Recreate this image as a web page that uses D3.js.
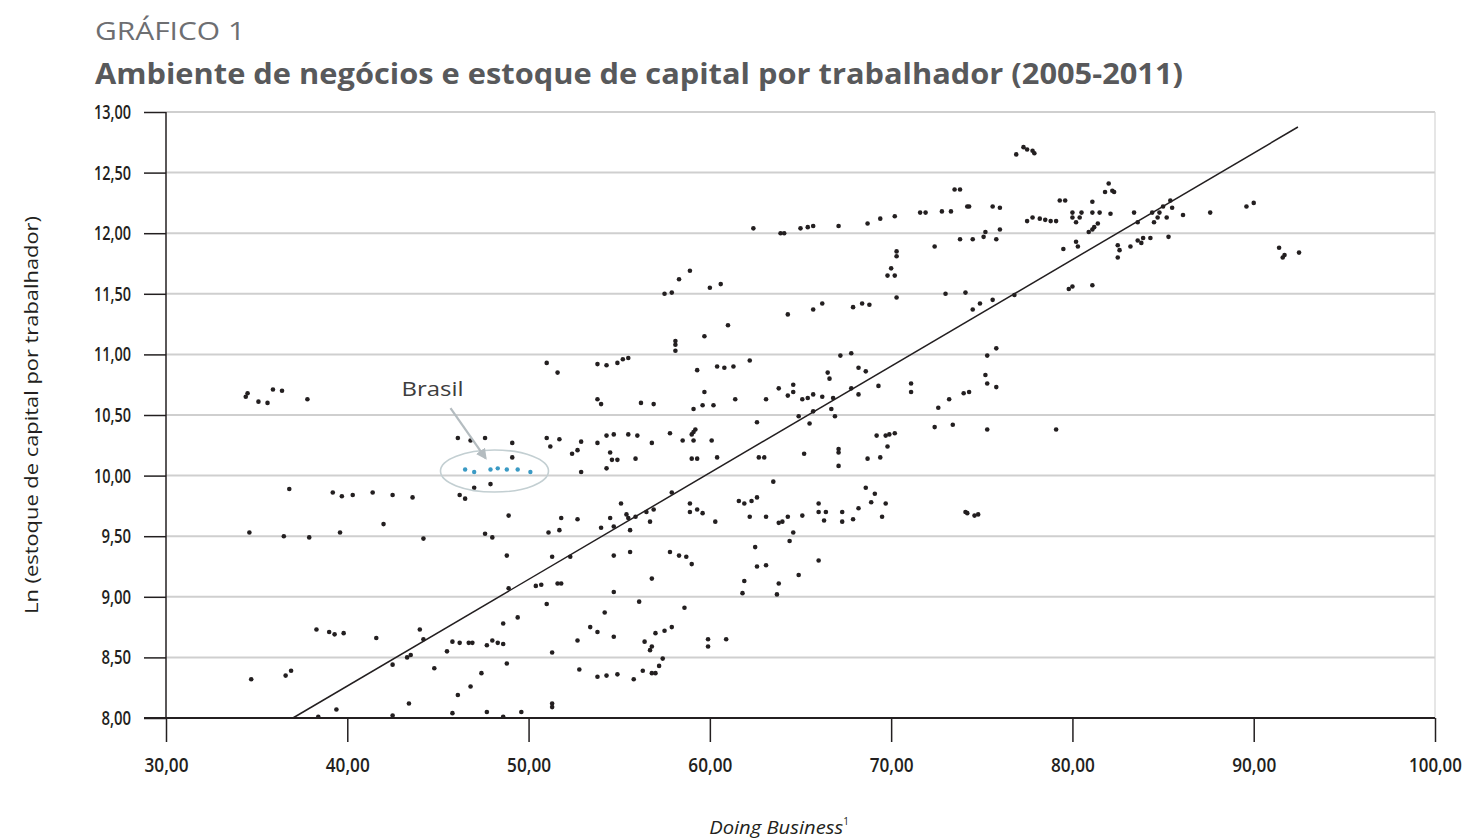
<!DOCTYPE html>
<html><head><meta charset="utf-8">
<script src="https://cdn.jsdelivr.net/npm/d3@7/dist/d3.min.js"></script>
<style>
body{margin:0;background:#fff;}
svg{display:block;}
</style></head>
<body>
<svg id="c" width="1480" height="839"></svg>
<script>
// ---- Data (Doing Business score, Ln capital stock per worker) ----
const xTicks = [30,40,50,60,70,80,90,100];
const yTicks = [8,8.5,9,9.5,10,10.5,11,11.5,12,12.5,13];
const doingBusiness = [
34.4,34.5,35.1,35.6,35.9,36.4,37.8,
46.1,46.8,47.6,47.0,47.9,36.8,39.2,39.7,40.3,41.4,42.5,43.6,46.2,46.5,42.0,
34.6,36.5,37.9,39.6,44.2,47.6,48.0,
38.3,39.0,39.3,39.8,41.6,44.0,44.2,45.8,46.2,46.7,46.9,47.7,48.0,48.3,45.5,43.3,43.5,42.5,44.8,47.4,
34.7,36.6,36.9,46.8,46.1,43.4,39.4,45.8,47.7,42.5,38.4,
62.4,58.9,58.3,60.0,60.6,57.5,57.9,61.0,59.7,58.1,58.1,58.1,
51.0,51.6,53.8,54.3,54.9,55.2,55.5,62.2,59.3,60.4,60.8,61.3,
53.8,54.0,56.2,56.9,59.1,59.6,60.2,61.4,63.1,59.7,62.6,59.2,
49.1,51.0,51.2,51.7,52.9,52.7,52.4,53.8,54.3,54.7,55.5,56.0,56.8,57.8,59.1,59.0,58.5,59.1,60.1,
49.1,54.5,54.6,54.9,55.9,59.0,59.3,60.4,62.7,63.0,54.3,52.9,
48.9,51.8,52.7,51.1,51.7,54.5,54.0,54.7,55.1,55.4,55.5,55.6,55.9,56.5,56.9,56.7,57.9,58.9,58.9,59.3,59.6,60.3,61.6,61.9,62.3,62.6,62.2,63.1,
48.8,51.3,52.3,54.7,55.6,57.8,58.3,58.7,59.0,62.5,62.6,63.1,
48.9,50.4,50.7,51.6,51.8,54.7,56.8,61.9,61.8,51.0,56.1,58.6,54.2,
49.4,48.6,53.4,53.8,57.0,57.5,57.9,52.7,54.7,56.4,56.8,56.7,59.9,59.9,60.9,48.6,
51.3,48.8,57.4,57.2,52.8,56.3,56.8,57.0,53.8,54.3,54.9,55.8,51.3,51.3,49.6,48.6,
76.9,77.3,77.5,77.8,77.9,73.5,73.8,74.2,74.3,75.6,76.0,77.5,77.8,
70.2,69.4,68.7,67.1,71.6,71.9,72.8,73.3,63.9,64.1,65.0,65.4,65.7,
73.8,74.5,75.1,75.2,75.8,76.0,72.4,70.3,70.3,70.0,69.8,70.2,70.3,73.0,74.1,
64.3,65.7,66.2,67.9,68.4,68.8,74.5,74.9,75.6,76.8,
67.2,67.8,75.3,75.8,68.2,68.6,66.5,66.6,63.8,64.6,64.6,64.3,65.1,65.4,65.7,66.2,66.8,67.8,68.2,69.3,71.1,71.1,
75.2,75.3,75.8,74.0,74.3,73.2,72.6,64.9,65.7,66.7,66.9,65.5,72.4,73.4,75.3,
69.2,69.7,69.9,70.2,69.8,65.2,67.1,67.1,67.1,68.7,69.4,
63.5,68.6,69.1,68.9,69.7,66.0,66.0,66.4,66.3,67.3,67.3,67.9,68.2,69.5,65.1,64.3,64.0,63.8,
74.1,74.2,74.6,74.8,64.6,64.4,66.0,64.9,63.8,63.7,
82.0,82.2,82.3,81.8,79.3,79.6,81.1,78.5,78.8,79.1,78.2,80.0,80.0,80.2,80.5,80.4,81.1,81.5,82.1,81.2,81.4,80.9,81.1,
79.5,80.2,80.3,83.4,83.6,84.4,84.7,84.8,85.0,85.4,85.5,85.2,84.5,86.1,87.6,89.6,90.0,
82.5,82.6,82.5,83.2,83.6,83.8,83.9,84.3,85.3,91.4,91.7,91.6,92.5,79.8,80.0,81.1,79.1
];
const lnCapital = [
10.65,10.68,10.61,10.60,10.71,10.70,10.63,
10.31,10.29,10.31,9.90,9.93,9.89,9.86,9.83,9.84,9.86,9.84,9.82,9.84,9.81,9.60,
9.53,9.50,9.49,9.53,9.48,9.52,9.49,
8.73,8.71,8.69,8.70,8.66,8.73,8.65,8.63,8.62,8.62,8.62,8.60,8.64,8.62,8.55,8.50,8.52,8.44,8.41,8.37,
8.32,8.35,8.39,8.26,8.19,8.12,8.07,8.04,8.05,8.02,8.01,
12.04,11.69,11.62,11.55,11.58,11.50,11.51,11.24,11.15,11.11,11.08,11.03,
10.93,10.85,10.92,10.91,10.93,10.96,10.97,10.95,10.87,10.90,10.89,10.90,
10.63,10.59,10.60,10.59,10.55,10.58,10.58,10.63,10.63,10.69,10.44,10.38,
10.27,10.31,10.24,10.30,10.28,10.21,10.18,10.27,10.33,10.34,10.34,10.33,10.27,10.35,10.36,10.34,10.29,10.29,10.29,
10.15,10.19,10.13,10.13,10.14,10.14,10.14,10.15,10.15,10.15,10.06,10.03,
9.67,9.65,9.64,9.53,9.55,9.65,9.57,9.58,9.77,9.68,9.65,9.55,9.66,9.70,9.72,9.62,9.86,9.77,9.70,9.72,9.69,9.62,9.79,9.77,9.79,9.82,9.66,9.66,
9.34,9.33,9.33,9.34,9.37,9.37,9.34,9.33,9.27,9.41,9.25,9.26,
9.07,9.09,9.10,9.11,9.11,9.04,9.15,9.13,9.03,8.94,8.96,8.91,8.87,
8.83,8.78,8.75,8.71,8.70,8.72,8.75,8.64,8.67,8.63,8.59,8.56,8.65,8.59,8.65,8.61,
8.54,8.45,8.49,8.43,8.40,8.39,8.37,8.37,8.34,8.35,8.36,8.32,8.12,8.09,8.05,8.01,
12.65,12.71,12.69,12.68,12.66,12.36,12.36,12.22,12.22,12.22,12.21,12.10,12.13,
12.14,12.12,12.08,12.06,12.17,12.17,12.18,12.18,12.00,12.00,12.04,12.05,12.06,
11.95,11.95,11.97,12.01,11.95,12.03,11.89,11.85,11.81,11.71,11.65,11.65,11.47,11.50,11.51,
11.33,11.37,11.42,11.39,11.42,11.41,11.37,11.42,11.45,11.49,
10.99,11.01,10.99,11.05,10.89,10.86,10.85,10.80,10.72,10.75,10.69,10.66,10.63,10.64,10.67,10.65,10.64,10.72,10.67,10.74,10.76,10.69,
10.83,10.76,10.73,10.68,10.69,10.63,10.56,10.49,10.53,10.55,10.49,10.43,10.40,10.42,10.38,
10.33,10.33,10.34,10.35,10.24,10.18,10.22,10.19,10.08,10.14,10.15,
9.95,9.90,9.85,9.78,9.77,9.77,9.70,9.70,9.63,9.70,9.62,9.64,9.73,9.66,9.67,9.66,9.62,9.61,
9.70,9.69,9.67,9.68,9.53,9.46,9.30,9.18,9.11,9.02,
12.41,12.35,12.34,12.34,12.27,12.27,12.26,12.11,12.10,12.10,12.12,12.17,12.13,12.09,12.17,12.13,12.17,12.17,12.16,12.05,12.08,12.01,12.03,
11.87,11.93,11.89,12.17,12.09,12.17,12.13,12.17,12.22,12.27,12.21,12.13,12.09,12.15,12.17,12.22,12.25,
11.90,11.86,11.80,11.89,11.94,11.92,11.96,11.96,11.97,11.88,11.82,11.80,11.84,11.54,11.56,11.57,10.38
];
const brasilDB = [46.5,47.0,47.9,48.3,48.8,49.4,50.1];
const brasilLn = [10.05,10.03,10.05,10.06,10.05,10.05,10.03];
const trendIntercept = 4.746, trendSlope = 0.08795;
const trendRange = [37.0, 92.44];

// ---- Drawing ----
const svg = d3.select("#c");
const L = 166, R = 1435, T = 112, B = 718;
const x = d3.scaleLinear().domain([30,100]).range([L,R]);
const y = d3.scaleLinear().domain([8,13]).range([B,T]);
const loc = d3.formatLocale({decimal:",", thousands:".", grouping:[3], currency:["R$",""]});
const fmt = loc.format(".2f");
const FONT = "'Open Sans', 'Noto Sans', sans-serif";

// titles
svg.append("text").attr("x",95).attr("y",40).attr("font-family",FONT)
  .attr("font-size",26).attr("fill","#6d6e71").attr("textLength",150).attr("lengthAdjust","spacingAndGlyphs")
  .text("GRÁFICO 1");
svg.append("text").attr("x",95).attr("y",84).attr("font-family",FONT).attr("font-weight","bold")
  .attr("font-size",29).attr("fill","#58595b").attr("textLength",1088).attr("lengthAdjust","spacingAndGlyphs")
  .text("Ambiente de negócios e estoque de capital por trabalhador (2005-2011)");

// gridlines
svg.append("g").selectAll("line").data(yTicks.filter(d=>d>8)).join("line")
  .attr("x1",L).attr("x2",R).attr("y1",d=>y(d)).attr("y2",d=>y(d))
  .attr("stroke","#cfcfcf").attr("stroke-width",2);
// right border
svg.append("line").attr("x1",R).attr("x2",R).attr("y1",T).attr("y2",B)
  .attr("stroke","#d6d6d6").attr("stroke-width",1.2);

// axes
const yAx = svg.append("g").attr("transform",`translate(${L},0)`)
  .call(d3.axisLeft(y).tickValues(yTicks).tickSize(22).tickPadding(13).tickFormat(fmt));
const xAx = svg.append("g").attr("transform",`translate(0,${B})`)
  .call(d3.axisBottom(x).tickValues(xTicks).tickSize(24).tickPadding(16).tickFormat(fmt));
function styleAxis(g, perChar){
  g.select(".domain").remove();
  g.selectAll(".tick line").attr("stroke","#231f20").attr("stroke-width",1.5);
  g.selectAll(".tick text").attr("font-family",FONT).attr("font-size",20).attr("fill","#231f20")
    .attr("font-weight",600)
    .attr("textLength",function(){ return this.textContent.length*perChar; })
    .attr("lengthAdjust","spacingAndGlyphs");
}
styleAxis(yAx, 7.4);
styleAxis(xAx, 8.8);
svg.append("line").attr("x1",L).attr("x2",L).attr("y1",T).attr("y2",B).attr("stroke","#231f20").attr("stroke-width",1.5);
svg.append("line").attr("x1",L-22).attr("x2",R).attr("y1",B).attr("y2",B).attr("stroke","#231f20").attr("stroke-width",2);

// axis titles
svg.append("text").attr("transform",`translate(38,415) rotate(-90)`).attr("text-anchor","middle")
  .attr("font-family",FONT).attr("font-size",18).attr("fill","#231f20")
  .attr("textLength",398).attr("lengthAdjust","spacingAndGlyphs")
  .text("Ln (estoque de capital por trabalhador)");
const xt = svg.append("text").attr("x",779).attr("y",834).attr("text-anchor","middle")
  .attr("font-family",FONT).attr("font-size",19).attr("font-style","italic").attr("fill","#231f20");
xt.append("tspan").attr("textLength",134).attr("lengthAdjust","spacingAndGlyphs").text("Doing Business");
xt.append("tspan").attr("font-size",10).attr("dy",-9).attr("font-style","normal").text("1");

// trend line
const trend = trendRange.map(v=>[v, trendIntercept + trendSlope*v]);
svg.append("path").attr("d",d3.line().x(d=>x(d[0])).y(d=>y(d[1]))(trend))
  .attr("stroke","#231f20").attr("stroke-width",1.5).attr("fill","none");

// points
const pts = doingBusiness.map((v,i)=>[v,lnCapital[i]]);
svg.append("g").selectAll("circle").data(pts).join("circle")
  .attr("cx",d=>x(d[0])).attr("cy",d=>y(d[1])).attr("r",2.3).attr("fill","#231f20");

// Brasil
const bpts = brasilDB.map((v,i)=>[v,brasilLn[i]]);
svg.append("g").selectAll("circle").data(bpts).join("circle")
  .attr("cx",d=>x(d[0])).attr("cy",d=>y(d[1])).attr("r",2.2).attr("fill","#3a9ac4");
const bx = x(d3.mean(brasilDB))-3, by = y(d3.mean(brasilLn))+1;
svg.append("ellipse").attr("cx",bx).attr("cy",by).attr("rx",54).attr("ry",21)
  .attr("fill","none").attr("stroke","#c3cfd2").attr("stroke-width",1.6);
svg.append("defs").append("marker").attr("id","ah").attr("viewBox","0 0 10 10").attr("refX",8).attr("refY",5)
  .attr("markerWidth",5).attr("markerHeight",5).attr("orient","auto")
  .append("path").attr("d","M0,0L10,5L0,10z").attr("fill","#b4bcc0");
svg.append("line").attr("x1",bx-44).attr("y1",by-63).attr("x2",bx-9).attr("y2",by-13)
  .attr("stroke","#b4bcc0").attr("stroke-width",2.2).attr("marker-end","url(#ah)");
svg.append("text").attr("x",bx-62).attr("y",by-75).attr("text-anchor","middle")
  .attr("font-family",FONT).attr("font-size",20).attr("fill","#3d3d3d")
  .attr("textLength",62).attr("lengthAdjust","spacingAndGlyphs").text("Brasil");
</script>
</body></html>
